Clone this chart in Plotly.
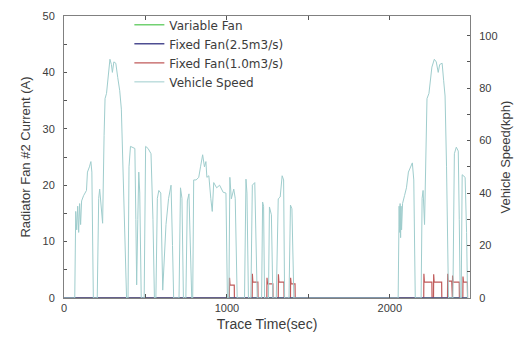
import plotly.graph_objects as go

# ---- data ----
speed_time = [0, 66, 72, 78, 84, 90, 96, 102, 108, 120, 138, 144, 156, 165, 171, 180,
              204, 213, 219, 228, 237, 246, 252, 261, 270, 282, 291, 297, 306, 318, 330, 342, 352, 360, 372, 384,
              393, 399, 408, 435, 441, 446, 453, 459, 465, 474, 492, 501, 516, 534, 546, 555,
              564, 573, 582, 594, 606, 615, 626, 642, 657, 666, 673, 706, 715, 724, 733,
              748, 757, 767, 775, 784, 790, 796, 811, 827, 838, 851, 862, 871, 877, 889, 901, 910,
              919, 937, 955, 977, 994, 1003, 1012, 1018, 1027, 1042, 1051, 1063, 1108, 1117, 1123, 1132,
              1147, 1156, 1171, 1180, 1186, 1213, 1219, 1225, 1231, 1255, 1261, 1273, 1282,
              1303, 1309, 1315, 1327, 1339, 1348, 1354, 1381, 1390, 1399, 1411,
              2051, 2057, 2060, 2063, 2066, 2069, 2072, 2078, 2090, 2102, 2114, 2126, 2138, 2147, 2156,
              2192, 2198, 2204, 2213, 2228, 2240, 2258, 2273, 2285, 2297, 2306, 2321, 2330, 2339, 2348, 2360,
              2387, 2396, 2408, 2420, 2426, 2432, 2438, 2444, 2462, 2471, 2477]
speed_kph = [0, 0, 33, 26, 35, 25, 36, 28, 37, 39, 41, 48, 50, 52, 48, 0,
             0, 38, 41.5, 36, 28.5, 62, 76, 78, 85, 91, 89, 86, 90, 89.5, 84, 79, 72, 55, 25, 0,
             0, 50, 57.8, 57, 30, 5, 30, 48, 40, 0, 0, 57.8, 57, 55, 30, 0,
             0, 38, 41, 40, 3, 15, 28, 38, 43, 20, 0, 0, 42, 38, 0,
             0, 37, 39.7, 20, 0, 0, 45, 45, 46, 50, 54.6, 50, 52, 46, 46.6, 38, 33,
             44, 42, 43, 40.3, 40, 0, 0, 46, 37.8, 41.5, 38, 0, 0, 45.3, 40, 0,
             0, 43, 44, 20, 0, 0, 36.6, 35, 0, 0, 34.7, 31.7, 0,
             0, 15, 37.8, 38.5, 46.6, 45, 0, 0, 35.4, 34, 0,
             0, 35, 25, 36, 23, 35, 26, 36, 39, 42, 48, 50, 51.5, 45, 0,
             0, 38, 41, 28, 76, 78, 88, 91, 90, 86, 89, 89.5, 83, 77, 50, 0,
             0, 55, 57.5, 56, 30, 0, 0, 47, 46, 25, 0]

fan_time = [0, 2477]
variable_fan_a = [0, 0]
fixed_fan_25_a = [0, 0]

pulse_start = [1015, 1155, 1245, 1315, 1390, 2208, 2268, 2354, 2384, 2448]
pulse_end = [1045, 1190, 1282, 1350, 1418, 2258, 2318, 2380, 2426, 2476]
pulse_peak = [3.6, 4.3, 3.6, 4.2, 3.6, 4.3, 4.2, 4.3, 4.0, 3.8]
pulse_plateau = [2.3, 2.8, 2.5, 2.8, 2.5, 2.8, 2.8, 3.0, 2.8, 2.8]

x_tick_vals = [0, 500, 1000, 1500, 2000]
x_tick_text = ["0", "", "1000", "", "2000"]
y1_tick_vals = [0, 5, 10, 15, 20, 25, 30, 35, 40, 45, 50]
y1_tick_text = ["0", "", "10", "", "20", "", "30", "", "40", "", "50"]
y2_tick_vals = [0, 10, 20, 30, 40, 50, 60, 70, 80, 90, 100]
y2_tick_text = ["0", "", "20", "", "40", "", "60", "", "80", "", "100"]

# ---- build fixed fan 1.0 step trace from pulse table ----
f10_t = [0]
f10_v = [0]
for s, e, p, q in zip(pulse_start, pulse_end, pulse_peak, pulse_plateau):
    f10_t += [s, s + 1, s + 4, e, e + 1]
    f10_v += [0, p, q, q, 0]
f10_t.append(2477)
f10_v.append(0)

FONT = "Liberation Sans, Arial, sans-serif"
TXT = "#3c3c3c"

fig = go.Figure()
fig.add_trace(go.Scatter(x=speed_time, y=speed_kph, mode="lines", name="Vehicle Speed",
                         line=dict(color="#9fcdcd", width=1), yaxis="y2", legendrank=4))
fig.add_trace(go.Scatter(x=fan_time, y=variable_fan_a, mode="lines", name="Variable Fan",
                         line=dict(color="#72d172", width=1.5), legendrank=1))
fig.add_trace(go.Scatter(x=f10_t, y=f10_v, mode="lines", name="Fixed Fan(1.0m3/s)",
                         line=dict(color="#c05a5a", width=1.2), legendrank=3))
fig.add_trace(go.Scatter(x=fan_time, y=fixed_fan_25_a, mode="lines", name="Fixed Fan(2.5m3/s)",
                         line=dict(color="#4e4e92", width=1.5), legendrank=2))

fig.update_layout(
    width=521, height=343,
    margin=dict(l=64, r=42, t=10, b=45),
    paper_bgcolor="white", plot_bgcolor="white",
    font=dict(family=FONT, size=11, color=TXT),
    showlegend=True,
    legend=dict(x=0.161, y=1.02, xanchor="left", yanchor="top",
                font=dict(family="DejaVu Sans, sans-serif", size=12, color=TXT),
                bgcolor="rgba(0,0,0,0)", itemwidth=30, tracegroupgap=0),
    xaxis=dict(range=[0, 2492], tickvals=x_tick_vals, ticktext=x_tick_text,
               ticks="inside", ticklen=4, tickcolor="#555", showgrid=False, zeroline=False,
               showline=True, linecolor="#808080", linewidth=1, mirror="ticks",
               title=dict(text="Trace Time(sec)", font=dict(size=14, color=TXT), standoff=5),
               tickfont=dict(size=11, color=TXT)),
    yaxis=dict(range=[0, 50], tickvals=y1_tick_vals, ticktext=y1_tick_text,
               ticks="inside", ticklen=3, tickcolor="#555", showgrid=False, zeroline=False,
               showline=True, linecolor="#808080", linewidth=1,
               title=dict(text="Radiator Fan #2 Current (A)", font=dict(size=13, color=TXT), standoff=8),
               tickfont=dict(size=11, color=TXT), ticklabelstandoff=6),
    yaxis2=dict(range=[0, 107.5], tickvals=y2_tick_vals, ticktext=y2_tick_text,
                overlaying="y", side="right",
                ticks="inside", ticklen=3, tickcolor="#555", showgrid=False, zeroline=False,
                showline=True, linecolor="#808080", linewidth=1,
                title=dict(text="Vehicle Speed(kph)", font=dict(size=13, color=TXT), standoff=4),
                tickfont=dict(size=11, color=TXT), ticklabelstandoff=6),
)

fig.write_html("out.html")
